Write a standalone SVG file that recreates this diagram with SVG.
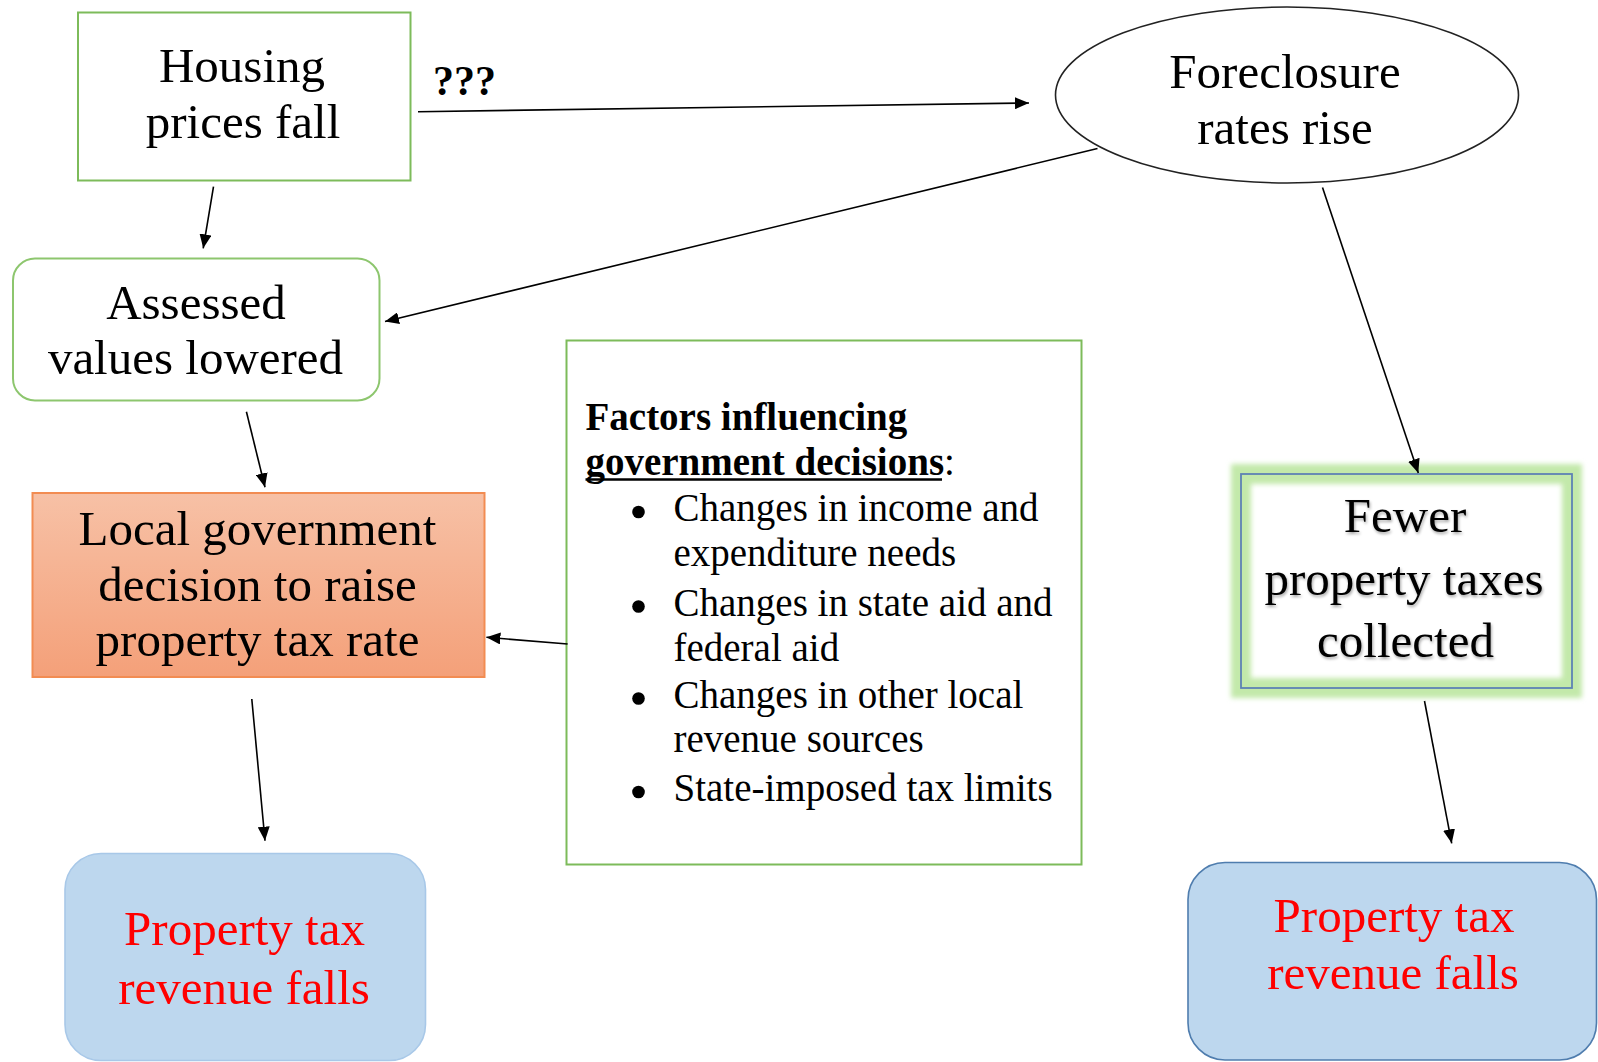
<svg xmlns="http://www.w3.org/2000/svg" width="1598" height="1062" viewBox="0 0 1598 1062">
<style>
  .t { font-family: "Liberation Serif", "Times New Roman", serif; font-size: 49px; fill: #000; text-anchor: middle; }
  .red { fill: #FF0000; }
  .f { font-family: "Liberation Serif", "Times New Roman", serif; font-size: 39px; fill: #000; }
  .b { font-weight: bold; }
  .conn line { stroke: #000; stroke-width: 1.6; fill: none; marker-end: url(#arr); }
  .green { fill: #fff; stroke: #7DBB5A; stroke-width: 2; }
</style>
<defs>
  <marker id="arr" markerUnits="userSpaceOnUse" markerWidth="16" markerHeight="12" refX="14" refY="6" orient="auto">
    <path d="M0,0 L14,6 L0,12 Z" fill="#000"/>
  </marker>
  <linearGradient id="orange" x1="0" y1="0" x2="0" y2="1">
    <stop offset="0" stop-color="#F7C1A6"/>
    <stop offset="1" stop-color="#F4A079"/>
  </linearGradient>
  <filter id="glow" x="-10%" y="-10%" width="120%" height="120%">
    <feGaussianBlur stdDeviation="2.5"/>
  </filter>
  <filter id="tshadow" x="-5%" y="-10%" width="110%" height="130%">
    <feGaussianBlur in="SourceAlpha" stdDeviation="1.5" result="b"/>
    <feOffset dx="1" dy="1.5" result="o"/>
    <feComponentTransfer in="o" result="s"><feFuncA type="linear" slope="0.35"/></feComponentTransfer>
    <feMerge><feMergeNode in="s"/><feMergeNode in="SourceGraphic"/></feMerge>
  </filter>
</defs>
<rect width="1598" height="1062" fill="#fff"/>

<g id="housing">
  <rect class="green" x="78" y="12.5" width="332.5" height="168"/>
  <text class="t" x="242" y="81.5">Housing</text>
  <text class="t" x="243" y="137.5">prices fall</text>
</g>

<g id="foreclosure">
  <ellipse cx="1287" cy="95" rx="231.5" ry="88" fill="#fff" stroke="#222" stroke-width="1.6"/>
  <text class="t" x="1285" y="87.5">Foreclosure</text>
  <text class="t" x="1285" y="143.5">rates rise</text>
</g>

<g id="assessed">
  <rect x="13" y="258.5" width="366.5" height="142" rx="22" fill="#fff" stroke="#8DC66E" stroke-width="2"/>
  <text class="t" x="196" y="318.5">Assessed</text>
  <text class="t" x="195.5" y="373.5">values lowered</text>
</g>

<g id="local">
  <rect x="32.5" y="493" width="452" height="184" fill="url(#orange)" stroke="#F28C52" stroke-width="2"/>
  <text class="t" x="257.5" y="545">Local government</text>
  <text class="t" x="257.5" y="600.5">decision to raise</text>
  <text class="t" x="257.5" y="655.5">property tax rate</text>
</g>

<g id="factors">
  <rect class="green" x="566.5" y="340.5" width="515" height="524"/>
  <text class="f b" x="585.5" y="430">Factors influencing</text>
  <text class="f" x="585.5" y="474.5"><tspan class="b">government decisions</tspan>:</text>
  <line x1="585.5" y1="479.5" x2="942" y2="479.5" stroke="#000" stroke-width="2.5"/>
  <g fill="#000">
    <circle cx="638.5" cy="512" r="6.3"/>
    <circle cx="638.5" cy="606.5" r="6.3"/>
    <circle cx="638.5" cy="698.5" r="6.3"/>
    <circle cx="638.5" cy="792" r="6.3"/>
  </g>
  <text class="f" x="673.5" y="521">Changes in income and</text>
  <text class="f" x="673.5" y="566">expenditure needs</text>
  <text class="f" x="673.5" y="615.5">Changes in state aid and</text>
  <text class="f" x="673.5" y="660.5">federal aid</text>
  <text class="f" x="673.5" y="707.5">Changes in other local</text>
  <text class="f" x="673.5" y="752">revenue sources</text>
  <text class="f" x="673.5" y="801">State-imposed tax limits</text>
</g>

<g id="fewer">
  <rect x="1241" y="474" width="331" height="214" fill="#fff"/>
  <rect x="1241" y="474" width="331" height="214" fill="none" stroke="#C3E9AA" stroke-width="20" filter="url(#glow)"/>
  <rect x="1241" y="474" width="331" height="214" fill="none" stroke="#5E82B4" stroke-width="1.8"/>
  <g filter="url(#tshadow)">
    <text class="t" x="1405" y="531.5">Fewer</text>
    <text class="t" x="1404" y="594.5">property taxes</text>
    <text class="t" x="1405.5" y="656.5">collected</text>
  </g>
</g>

<g id="revenue-left">
  <rect x="65" y="853.5" width="360.5" height="207" rx="36" fill="#BDD7EE" stroke="#A8C8E8" stroke-width="1.6"/>
  <text class="t red" x="244.5" y="945">Property tax</text>
  <text class="t red" x="244" y="1004">revenue falls</text>
</g>

<g id="revenue-right">
  <rect x="1188" y="862.5" width="408.5" height="197.5" rx="37" fill="#BDD7EE" stroke="#4F7DAE" stroke-width="1.6"/>
  <text class="t red" x="1394" y="931.5">Property tax</text>
  <text class="t red" x="1393" y="988.5">revenue falls</text>
</g>

<g id="connectors" class="conn">
  <text x="433" y="95" font-family="Liberation Serif, Times New Roman, serif" font-size="42" font-weight="bold" fill="#000">???</text>
  <line x1="418" y1="111.7" x2="1029" y2="103"/>
  <line x1="1097.5" y1="148.5" x2="385" y2="321.5"/>
  <line x1="213.5" y1="186.7" x2="203.2" y2="248.3"/>
  <line x1="246.4" y1="411.7" x2="265" y2="487.3"/>
  <line x1="567.6" y1="644" x2="486.4" y2="637.3"/>
  <line x1="251.8" y1="699" x2="265" y2="840.7"/>
  <line x1="1322.5" y1="187.5" x2="1418.3" y2="473"/>
  <line x1="1424.5" y1="701" x2="1451.7" y2="843.3"/>
</g>
</svg>
